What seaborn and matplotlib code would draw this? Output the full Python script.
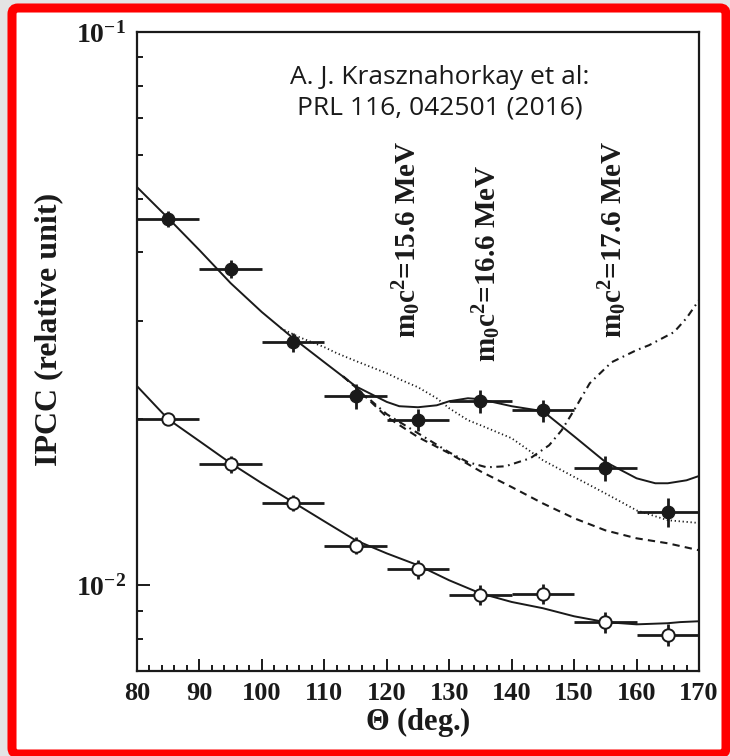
import numpy as np
import pandas as pd
import matplotlib
matplotlib.use("Agg")
import matplotlib.pyplot as plt
import matplotlib.patches as mpatches
from matplotlib.ticker import MultipleLocator, NullFormatter, FixedLocator, LogLocator
import seaborn as sns

# ---------------- data ----------------
theta_pts = [85, 95, 105, 115, 125, 135, 145, 155, 165]
ipcc_filled = [0.04589, 0.0373, 0.02747, 0.02197, 0.01988, 0.02154, 0.0207, 0.0163, 0.01357]
rel_err_filled = [0.033, 0.037, 0.040, 0.052, 0.046, 0.048, 0.046, 0.052, 0.060]
ipcc_open = [0.01996, 0.01655, 0.01411, 0.0118, 0.01069, 0.0096, 0.00966, 0.00857, 0.00814]
rel_err_open = [0.025, 0.034, 0.034, 0.034, 0.038, 0.042, 0.042, 0.042, 0.046]
theta_half_width = 5

fit_upper_x = [80, 85, 90, 95, 100, 105, 110, 115, 120, 122, 125, 128, 130, 133, 135,
               140, 145, 150, 155, 160, 163, 165, 168, 170]
fit_upper_y = [0.05244, 0.04608, 0.04034, 0.03516, 0.03117, 0.02797, 0.02530, 0.02290,
               0.02145, 0.02107, 0.02098, 0.02115, 0.02151, 0.02178, 0.02169, 0.02107,
               0.02064, 0.01859, 0.01671, 0.01561, 0.01529, 0.01529, 0.01548, 0.01576]

dotted_x = [103, 106, 110, 112, 115, 120, 122, 125, 128, 130, 133, 135, 140, 145, 150,
            155, 160, 165, 170]
dotted_y = [0.02915, 0.02808, 0.02694, 0.02627, 0.02544, 0.02417, 0.02358, 0.02280,
            0.02178, 0.02089, 0.01988, 0.01947, 0.01844, 0.01683, 0.01570, 0.01466,
            0.01366, 0.01311, 0.01296]

dashed_x = [113, 115, 120, 125, 130, 135, 140, 145, 150, 155, 160, 165, 170]
dashed_y = [0.02386, 0.02280, 0.02015, 0.01853, 0.01732, 0.01607, 0.01505, 0.01406,
            0.01322, 0.01257, 0.01216, 0.01191, 0.01157]

dashdot_x = [113, 115, 120, 125, 130, 133, 136, 139, 143, 146, 148, 150, 152.5, 156,
             160, 162, 166, 168, 170]
dashdot_y = [0.02386, 0.02280, 0.02038, 0.01883, 0.01739, 0.01669, 0.01634, 0.01641,
             0.01697, 0.01791, 0.01906, 0.02073, 0.02318, 0.02530, 0.02661, 0.02716,
             0.02868, 0.03040, 0.03276]

fit_lower_x = [80, 85, 90, 95, 100, 105, 110, 115, 120, 125, 130, 135, 140, 145, 150,
               155, 160, 165, 167, 170]
fit_lower_y = [0.02291, 0.01996, 0.01822, 0.01662, 0.01529, 0.01413, 0.01305, 0.01206,
               0.01142, 0.01087, 0.01021, 0.00967, 0.00933, 0.00909, 0.00879, 0.00858,
               0.00850, 0.00854, 0.00858, 0.00861]

mass_labels = ["15.6", "16.6", "17.6"]
mass_label_x = [123.2, 136.0, 156.2]
mass_label_y = [0.0280, 0.0253, 0.0280]
x_ticks = [80, 90, 100, 110, 120, 130, 140, 150, 160, 170]
y_ticks = [0.01, 0.1]
y_tick_labels = [r"$\mathbf{10^{-2}}$", r"$\mathbf{10^{-1}}$"]

# ---------------- style ----------------
sns.set_style("ticks")
plt.rcParams["font.family"] = ["Liberation Serif", "DejaVu Serif"]
plt.rcParams["mathtext.fontset"] = "custom"
plt.rcParams["mathtext.rm"] = "Liberation Serif"
plt.rcParams["mathtext.bf"] = "Liberation Serif:bold"
plt.rcParams["mathtext.it"] = "Liberation Serif:italic"

W, H = 730, 756
fig = plt.figure(figsize=(W / 100, H / 100), dpi=100)
fig.patch.set_facecolor("#e4e4e4")

# red frame
frame = mpatches.FancyBboxPatch((12 / W, 1 - 754 / H), (726 - 12) / W, (754 - 8) / H,
                                boxstyle="round,pad=0,rounding_size=0.008",
                                transform=fig.transFigure, facecolor="white",
                                edgecolor="#ff0000", linewidth=6.5, zorder=-5)
fig.patches.append(frame)

ax = fig.add_axes([137 / W, 1 - 671 / H, (699 - 137) / W, (671 - 32) / H])
ax.set_zorder(2)
ax.set_facecolor("white")
ax.set_yscale("log")

lw_fit = 1.4
sns.lineplot(x=fit_upper_x, y=fit_upper_y, ax=ax, color="#1a1a1a", linewidth=lw_fit, zorder=3)
sns.lineplot(x=dotted_x, y=dotted_y, ax=ax, color="#1a1a1a", linewidth=1.3,
             linestyle=(0, (0.7, 1.5)), zorder=2)
sns.lineplot(x=dashed_x, y=dashed_y, ax=ax, color="#1a1a1a", linewidth=1.5,
             linestyle=(0, (3.5, 2.5)), zorder=2)
sns.lineplot(x=dashdot_x, y=dashdot_y, ax=ax, color="#1a1a1a", linewidth=1.5,
             linestyle=(0, (3.5, 2.2, 0.8, 2.2)), zorder=2)
sns.lineplot(x=fit_lower_x, y=fit_lower_y, ax=ax, color="#1a1a1a", linewidth=lw_fit, zorder=3)

yerr_f = np.array(ipcc_filled) * np.array(rel_err_filled)
yerr_o = np.array(ipcc_open) * np.array(rel_err_open)
ax.errorbar(theta_pts, ipcc_filled, xerr=theta_half_width, yerr=yerr_f, fmt="none",
            ecolor="#1a1a1a", elinewidth=2.0, capsize=0, zorder=4)
ax.errorbar(theta_pts, ipcc_open, xerr=theta_half_width, yerr=yerr_o, fmt="none",
            ecolor="#1a1a1a", elinewidth=2.0, capsize=0, zorder=4)

sns.scatterplot(x=theta_pts, y=ipcc_filled, ax=ax, marker="o", s=80, color="#1a1a1a",
                edgecolor="#1a1a1a", linewidth=1.0, zorder=5)
sns.scatterplot(x=theta_pts, y=ipcc_open, ax=ax, marker="o", s=80, color="white",
                edgecolor="#1a1a1a", linewidth=1.4, zorder=5)

ax.set_xlim(80, 170)
ax.set_ylim(0.007, 0.1)

ax.xaxis.set_major_locator(FixedLocator(x_ticks))
ax.xaxis.set_minor_locator(MultipleLocator(2))
ax.yaxis.set_major_locator(FixedLocator(y_ticks))
ax.yaxis.set_minor_locator(LogLocator(base=10, subs=np.arange(2, 10), numticks=20))
ax.yaxis.set_minor_formatter(NullFormatter())
ax.set_yticklabels(y_tick_labels)
ax.set_xticklabels([str(t) for t in x_ticks])

for lab in ax.get_xticklabels():
    lab.set_fontweight("bold")
    lab.set_fontsize(19)
    lab.set_color("#1a1a1a")
for lab in ax.get_yticklabels():
    lab.set_fontsize(20)
    lab.set_color("#1a1a1a")

ax.tick_params(which="major", direction="in", length=9, width=1.4, color="#1a1a1a", pad=8)
ax.tick_params(which="minor", direction="in", length=4.5, width=1.4, color="#1a1a1a")
ax.tick_params(axis="y", which="major", pad=8)

for s in ax.spines.values():
    s.set_linewidth(1.6)
    s.set_color("#1a1a1a")
    s.set_visible(True)

ax.set_xlabel(r"$\mathbf{\Theta}$ (deg.)", fontsize=22, fontweight="bold", color="#1a1a1a",
              labelpad=0)
ax.set_ylabel("IPCC (relative unit)", fontsize=23, fontweight="bold", color="#1a1a1a")
ax.yaxis.set_label_coords(-0.132, 0.535)

for m, xm, ym in zip(mass_labels, mass_label_x, mass_label_y):
    ax.text(xm, ym, r"$\mathbf{m_0c^2}$" + f"={m} MeV", rotation=90, ha="center",
            va="bottom", fontsize=21, fontweight="bold", color="#1a1a1a", zorder=6)

fig.text(440 / W, 1 - 93 / H, "A. J. Krasznahorkay et al:\nPRL 116, 042501 (2016)",
         ha="center", va="center", fontsize=19, family=["Open Sans", "DejaVu Sans"],
         color="#1a1a1a", linespacing=1.3)

fig.savefig("out.png", dpi=100, facecolor=fig.get_facecolor())
